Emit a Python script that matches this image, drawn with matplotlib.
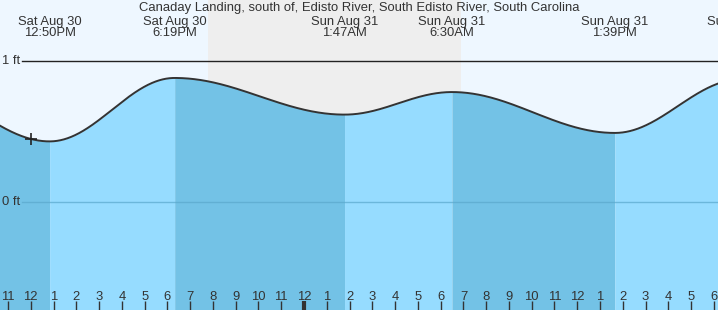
import numpy as np
import matplotlib
matplotlib.use("Agg")
import matplotlib.pyplot as plt

plt.rcParams['font.family'] = ['Liberation Sans', 'DejaVu Sans']

# tide extremes: hours from midnight Sun Aug 31, height in ft
ext_hours = [-17.5, -11.17, -5.68, 1.78, 6.5, 13.65, 19.18]
ext_heights = [0.85, 0.43, 0.88, 0.62, 0.78, 0.49, 0.87]
ext_labels = ["", "Sat Aug 30\n12:50PM", "Sat Aug 30\n6:19PM", "Sun Aug 31\n1:47AM",
              "Sun Aug 31\n6:30AM", "Sun Aug 31\n1:39PM", "Sun Aug 31\n7:11PM"]

# night (sunset -> sunrise)
night = [(-4.22, 6.9)]
now_hour = -12.0

title = "Canaday Landing, south of, Edisto River, South Edisto River, South Carolina"

x_min, x_max = -13.35, 18.18
y_min, y_max = -0.766, 1.433

day_bg = "#eef7ff"
night_bg = "#eeeeee"
rise_col = "#96dcff"
fall_col = "#73c2e6"
txt_col = "#333333"
fs = 9.4


def tide(t):
    out = np.zeros_like(t)
    for i in range(len(ext_hours) - 1):
        t0, t1 = ext_hours[i], ext_hours[i + 1]
        h0, h1 = ext_heights[i], ext_heights[i + 1]
        m = (t >= t0) & (t <= t1)
        f = (t[m] - t0) / (t1 - t0)
        out[m] = h0 + (h1 - h0) * (1 - np.cos(np.pi * f)) / 2
    return out


fig = plt.figure(figsize=(7.18, 3.10), dpi=100)
ax = fig.add_axes([0, 0, 1, 1])
ax.set_xlim(x_min, x_max)
ax.set_ylim(y_min, y_max)
ax.axis('off')

ax.axvspan(x_min, x_max, color=day_bg, lw=0, zorder=0)
for a, b in night:
    ax.axvspan(a, b, color=night_bg, lw=0, zorder=0)

# water, coloured by rising / falling segments
for i in range(len(ext_hours) - 1):
    t0, t1 = ext_hours[i], ext_hours[i + 1]
    tt = np.linspace(t0, t1, 200)
    col = rise_col if ext_heights[i + 1] > ext_heights[i] else fall_col
    ax.fill_between(tt, y_min, tide(tt), color=col, lw=0, zorder=1)

tt = np.linspace(x_min - 0.5, x_max + 0.5, 2000)
ax.plot(tt, tide(tt), color="#333333", lw=1.4, zorder=3)

# datum lines
px = (x_max - x_min) / 718.0
ax.plot([x_min + 22 * px, x_max], [1, 1], color="#222222", lw=1, zorder=2)
ax.plot([x_min + 22 * px, x_max], [0, 0], color="#5aa8cc", lw=1, alpha=0.7, zorder=2)
ax.text(x_min + 2 * px, 1, "1 ft", ha='left', va='center', fontsize=fs, color=txt_col, zorder=4)
ax.text(x_min + 2 * px, 0, "0 ft", ha='left', va='center', fontsize=fs, color=txt_col, zorder=4)

# current time marker
ax.plot([now_hour], tide(np.array([now_hour])), marker='+', ms=9, mew=1.2,
        color="#222222", zorder=5)

# hour ticks
py = (y_max - y_min) / 310.0
for h in range(-13, 19):
    lab = h % 12
    if lab == 0:
        lab = 12
    lw = 3 if h == 0 else 1
    ax.plot([h, h], [y_min, y_min + 9 * py], color="#333333", lw=lw, zorder=4,
            solid_capstyle='butt')
    ax.text(h, y_min + 13 * py, str(lab), ha='center', va='center', fontsize=fs,
            color=txt_col, zorder=4)

# extreme labels
for h, lab in zip(ext_hours, ext_labels):
    if lab:
        ax.text(h, y_max - 27.5 * py, lab, ha='center', va='center', fontsize=fs,
                color=txt_col, linespacing=0.92, zorder=4, clip_on=True)

ax.text((x_min + x_max) / 2, y_max - 7.5 * py, title, ha='center', va='center',
        fontsize=fs, color=txt_col, zorder=4)

fig.savefig("out.png", dpi=100)
